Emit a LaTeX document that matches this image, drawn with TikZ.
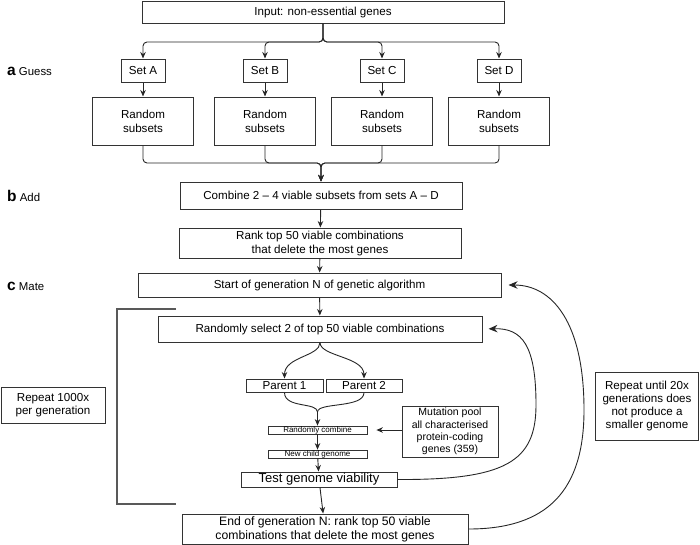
\documentclass[tikz,border=0pt]{standalone}
\usepackage{fontspec}
\setmainfont{Liberation Sans}
\usetikzlibrary{arrows.meta}

\tikzstyle{box}=[draw=black!80,line width=1pt,align=center,inner sep=0pt,font=\fontsize{11.6}{14}\selectfont]
\tikzstyle{tinybox}=[draw=black!80,line width=0.8pt,inner sep=0pt,minimum width=99pt,minimum height=8pt,font=\fontsize{8}{8}\selectfont]
\tikzstyle{link}=[-{Stealth[length=6.5pt,width=5.5pt]},line width=0.9pt,black!85]
\tikzstyle{loop}=[-{Stealth[length=9pt,width=7.5pt]},line width=0.9pt,black!85]
\tikzstyle{stage}=[anchor=west,inner sep=0pt,font=\fontsize{11.4}{14}\selectfont]

\begin{document}
\begin{tikzpicture}[x=1pt,y=-1pt]
    \useasboundingbox (0,0) rectangle (700,544);
    %Input and combine
    \node[box,minimum width=362pt,minimum height=22pt] (input) at (323,12) {Input: non-essential genes};
    \node[box,minimum width=282pt,minimum height=27pt] (combine) at (321,195.5) {Combine 2 -- 4 viable subsets from sets A -- D};
    %Sets A to D
    \foreach \x/\name in {143/A, 265/B, 382/C, 499/D}{
        \node[box,minimum width=44pt,minimum height=23pt] (set\name) at (\x,70.5) {Set \name};
        \node[box,minimum width=101pt,minimum height=48pt] (rand\name) at (\x,121) {Random\\subsets};
        \draw[link,rounded corners=4pt] (input.south) |- (\x,42) -- (set\name.north);
        \draw[link] (set\name.south) -- (rand\name.north);
        \draw[link,rounded corners=4pt] (rand\name.south) |- (321,163) -- (combine.north);
    }
    \node[box,minimum width=282pt,minimum height=30pt] (rank) at (320,243) {Rank top 50 viable combinations\\that delete the most genes};
    \node[box,minimum width=363pt,minimum height=24pt] (start) at (319.5,285) {Start of generation N of genetic algorithm};
    \node[box,minimum width=324pt,minimum height=26pt] (select) at (320,329) {Randomly select 2 of top 50 viable combinations};
    %Parents and child
    \node[box,minimum width=77pt,minimum height=13pt] (p1) at (284.5,385.5) {Parent 1};
    \node[box,minimum width=76pt,minimum height=13pt] (p2) at (364,385.5) {Parent 2};
    \node[tinybox] (rcomb) at (317.5,430) {Randomly combine};
    \node[tinybox] (child) at (317.5,454) {New child genome};
    \node[box,minimum width=156pt,minimum height=15pt,font=\fontsize{13}{14}\selectfont] (test) at (319,479.5) {Test genome viability};
    \node[box,minimum width=286pt,minimum height=30pt,font=\fontsize{12.2}{14}\selectfont] (end) at (325,529) {End of generation N: rank top 50 viable\\combinations that delete the most genes};
    \node[box,minimum width=96pt,minimum height=51pt,font=\fontsize{10.5}{12.2}\selectfont] (pool) at (450,431.5) {Mutation pool\\all characterised\\protein-coding\\genes (359)};
    %Side notes
    \node[box,minimum width=104pt,minimum height=36pt,font=\fontsize{11.6}{13}\selectfont] (inner) at (53,405.5) {Repeat 1000x\\per generation};
    \node[box,minimum width=103pt,minimum height=68pt,font=\fontsize{11.6}{13.3}\selectfont] (outer) at (647,406) {Repeat until 20x\\generations does\\not produce a\\smaller genome};
    \node[stage] (guess) at (7,71) {{\fontsize{15.5}{16}\selectfont\bfseries a} Guess};
    \node[stage] (add) at (7,196) {{\fontsize{15.5}{16}\selectfont\bfseries b} Add};
    \node[stage] (mate) at (7,286) {{\fontsize{15.5}{16}\selectfont\bfseries c} Mate};
    %Straight links
    \draw[link] (combine) -- (rank);
    \draw[link] (rank) -- (start);
    \draw[link] (start) -- (select);
    \draw[link] (rcomb) -- (child);
    \draw[link] (child) -- (test);
    \draw[link] (test) -- (end);
    \draw[link,shorten >=9pt] (pool.west |- rcomb.east) -- (rcomb.east);
    %Split and merge
    \coordinate (join) at (317.5,412);
    \draw[link] (select.south) .. controls +(0,14) and +(0,-22) .. (p1.north);
    \draw[link] (select.south) .. controls +(0,14) and +(0,-22) .. (p2.north);
    \draw[line width=0.9pt,black!85] (p1.south) .. controls +(0,16) and +(0,-10) .. (join);
    \draw[line width=0.9pt,black!85] (p2.south) .. controls +(0,16) and +(0,-10) .. (join);
    \draw[link] (join) -- (rcomb.north);
    %Bracket
    \draw[line width=1.1pt,black!65] (176,309) -- (117,309) -- (117,504) -- (176,504);
    %Loops back
    \draw[loop,shorten >=6pt] (test.east) .. controls (505,480) and (536,462) .. (536,405)
        .. controls (536,345) and (522,328) .. (select.east);
    \draw[loop,shorten >=7pt] (end.east) .. controls (548,529) and (584,490) .. (584,410)
        .. controls (584,322) and (552,285) .. (start.east);
\end{tikzpicture}
\end{document}
